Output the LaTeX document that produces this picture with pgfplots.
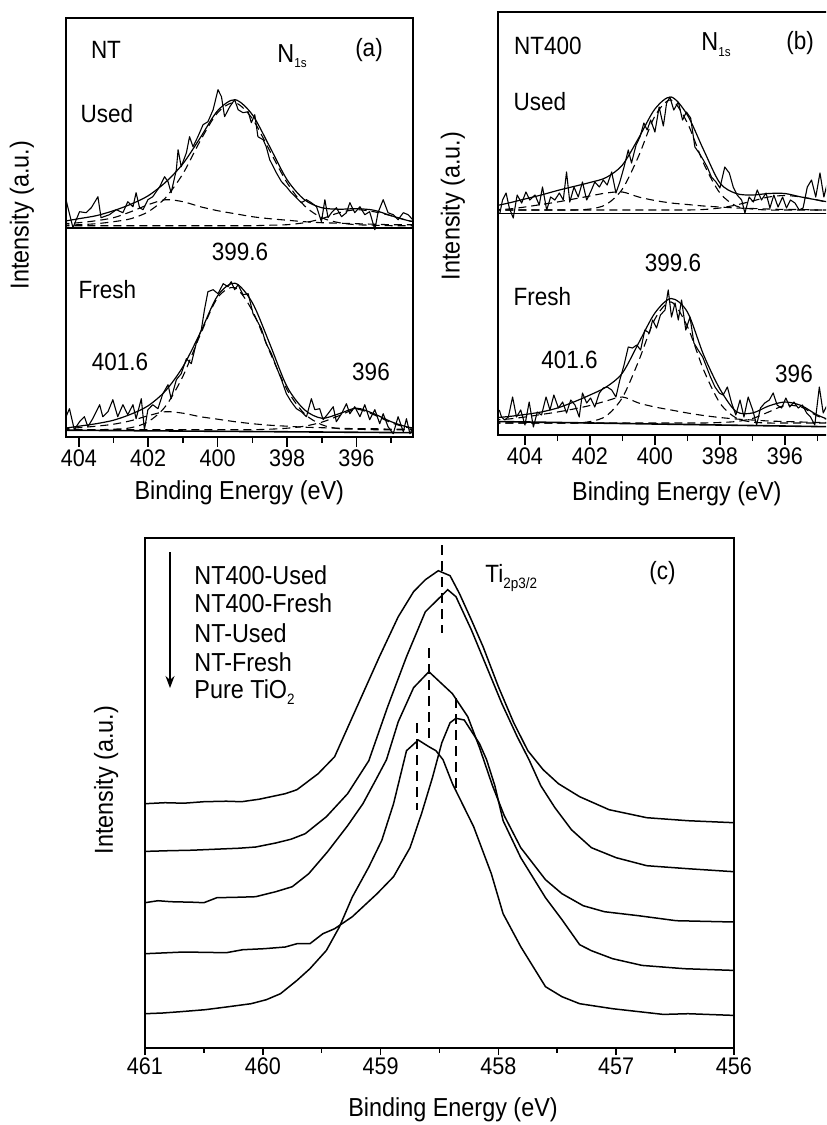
\documentclass[border=0pt]{standalone}
\usepackage{pgfplots}
\pgfplotsset{compat=1.18}
\usepackage{pgfplotstable}
\usepackage{fontspec}
\setmainfont{Liberation Sans}[FakeStretch=0.9]
\usetikzlibrary{arrows.meta}

% ---------------- panel (a) : NT ----------------
\pgfplotstableread{
E I
404.37 237
404.17 209
403.98 225
403.79 224
403.64 229
403.45 240
403.36 219
403.12 222
402.92 227
402.73 224
402.59 235
402.44 230
402.35 244
402.25 229
402.15 227
402.01 237
401.87 240
401.67 250
401.53 260
401.43 255
401.34 244
401.19 267
401.14 287
401.05 270
400.90 284
400.81 300
400.71 290
400.57 300
400.42 312
400.28 315
400.13 327
399.99 347
399.89 340
399.80 320
399.65 330
399.51 337
399.41 327
399.27 324
399.12 325
399.03 314
398.93 322
398.84 300
398.69 297
398.60 290
398.50 277
398.31 264
398.16 255
398.02 250
397.88 244
397.73 239
397.59 234
397.44 237
397.30 234
397.15 230
397.01 215
396.91 237
396.82 219
396.72 224
396.58 229
396.43 220
396.29 224
396.19 234
396.05 224
395.90 230
395.76 222
395.62 225
395.47 207
395.38 224
395.23 237
395.09 224
394.94 222
394.80 217
394.65 224
394.51 222
394.38 217
}\aUsedRaw

\pgfplotstableread{
E I
404.37 20
404.27 28
404.13 7
403.98 15
403.84 20
403.74 10
403.60 18
403.40 32
403.31 20
403.16 25
403.02 37
402.88 20
402.73 32
402.59 22
402.44 32
402.35 18
402.20 38
402.11 7
402.01 27
401.87 32
401.72 28
401.58 43
401.43 52
401.34 38
401.19 57
401.05 63
400.90 78
400.76 73
400.62 93
400.47 107
400.38 127
400.28 145
400.13 147
399.99 143
399.84 153
399.70 150
399.61 155
399.51 147
399.41 152
399.27 142
399.12 143
398.98 123
398.88 117
398.74 108
398.60 93
398.45 83
398.31 70
398.16 57
398.02 43
397.88 35
397.73 28
397.59 25
397.44 20
397.30 38
397.20 27
397.06 28
396.96 17
396.82 23
396.67 30
396.58 15
396.43 23
396.29 33
396.19 23
396.05 30
395.90 20
395.76 32
395.62 17
395.47 27
395.33 13
395.23 23
395.09 10
394.94 3
394.80 20
394.65 5
394.56 18
394.46 3
394.38 8
}\aFreshRaw

\pgfplotstableread{
E env main cA cB
404.5 215 211.5 213 211
404.0 218 212 214 211
403.5 221 213 216 211
403.0 226 215 219 211
402.5 232.5 218 225 211
402.0 241 225 232 211
401.5 254.5 239 237 211
401.0 273 263 235 211
400.5 299 296 230 211
400.0 326 324 226 211
399.5 337 334 223 211
399.0 322 318 220 211
398.5 290 286 218 211.5
398.0 257 254 216.5 212
397.5 237 231 215 214
397.0 229 219 214 218
396.5 227.5 214 213.5 224
396.0 228 212 213 227
395.5 226.5 211.5 212.5 225
395.0 221 211 212 221
394.5 216 211 212 216
394.0 213 211 212 213
}\aUsedFit

\pgfplotstableread{
E env main cA cB
404.5 8 7 8 7
404.0 10.5 7 9 7
403.5 13 7 10.5 7
403.0 16.5 7.5 12.5 7
402.5 22.5 9 16 7
402.0 31 15 21 7
401.5 46 30.5 25 7
401.0 70 60.5 23.5 7
400.5 104 102 20 7
400.0 141 139 17.5 7
399.5 153.5 149 15 7
399.0 134 126 13 7
398.5 93 85 11.5 7.5
398.0 50 47 10.5 8.5
397.5 27 23 9.5 10.5
397.0 18.5 12 9 14.5
396.5 23 8 8.5 21
396.0 28.5 7.5 8 27.5
395.5 23 7 8 22
395.0 15 7 7.5 14
394.5 9.5 7 7.5 9
394.0 7.5 7 7.5 7.5
}\aFreshFit

% ---------------- panel (b) : NT400 ----------------
\pgfplotstableread{
E I
404.77 222
404.69 235
404.58 242
404.48 227
404.36 217
404.24 240
404.10 232
403.97 243
403.85 235
403.69 240
403.56 230
403.46 248
403.33 225
403.21 238
403.08 235
402.94 242
402.82 235
402.72 263
402.62 233
402.49 248
402.36 238
402.23 253
402.10 235
401.98 243
401.85 253
401.71 248
401.59 255
401.47 250
401.33 263
401.20 242
401.08 253
400.95 268
400.82 285
400.72 272
400.58 290
400.46 298
400.34 312
400.24 305
400.13 315
400.00 303
399.87 328
399.74 309
399.64 332
399.54 338
399.42 325
399.28 333
399.15 315
399.03 323
398.90 317
398.77 288
398.64 282
398.51 275
398.39 268
398.26 258
398.12 253
398.00 247
397.85 268
397.71 262
397.59 248
397.47 240
397.33 235
397.23 222
397.10 238
396.97 233
396.85 245
396.72 235
396.58 242
396.46 227
396.34 240
396.21 228
396.07 238
395.95 227
395.83 235
395.69 232
395.56 225
395.44 227
395.31 248
395.18 255
395.05 238
394.92 262
394.80 238
394.67 255
}\bUsedRaw

\pgfplotstableread{
E I
404.79 25
404.72 18
404.62 15
404.51 18
404.38 38
404.26 18
404.13 25
404.00 10
403.87 33
403.74 8
403.62 23
403.49 20
403.35 38
403.23 25
403.11 40
402.97 27
402.84 33
402.72 22
402.59 35
402.46 30
402.33 18
402.23 42
402.10 32
401.98 37
401.85 28
401.71 42
401.59 47
401.47 48
401.33 45
401.20 38
401.08 55
400.95 70
400.82 88
400.69 87
400.56 90
400.44 85
400.31 105
400.17 102
400.07 115
399.95 107
399.83 120
399.69 125
399.59 145
399.49 118
399.38 132
399.28 115
399.18 135
399.05 105
398.92 118
398.80 92
398.67 85
398.53 78
398.41 68
398.29 58
398.15 48
398.02 42
397.90 40
397.77 48
397.64 32
397.51 20
397.38 35
397.26 18
397.13 38
396.99 25
396.87 10
396.75 27
396.62 32
396.48 35
396.36 42
396.24 30
396.10 27
395.97 37
395.85 28
395.72 33
395.59 27
395.46 30
395.33 22
395.21 18
395.08 10
394.94 48
394.82 22
394.67 32
}\bFreshRaw

\pgfplotstableread{
E env main cA cB
405.0 228.5 225 225.5 225
404.5 232 225 226 225
404.0 236 225 228 225
403.5 240 225 230.5 225
403.0 244.5 225 233 225
402.5 248.5 225 236 225
402.0 252.5 226 239 225
401.5 257.5 230.5 242 225
401.0 270 246 243 225
400.5 297 279 238 225
400.0 326 319 234.5 225
399.5 338 335 232 225
399.0 320 312 230.5 225
398.5 285 271.5 229 225.5
398.0 252 242 228 227
397.5 241.5 229 227 230
397.0 240 226 226.5 234
396.5 241.5 225 226 238
396.0 241.5 225 225.5 239.5
395.5 238 225 225.5 238
395.0 235 225 225 235
394.5 232 225 225 231
394.0 229 225 225 228
}\bUsedFit

\pgfplotstableread{
E env main cA cB
405.0 17 12 15 12
404.5 18.5 12 16 12
404.0 20.5 12 18 12
403.5 23 12 20.5 12
403.0 27 12 23 12
402.5 33 12 26 12
402.0 40 13.4 29.5 12
401.5 48 19 34 12
401.0 62 37.5 38 12
400.5 92 74 32 12
400.0 122 116 28 12
399.5 136.5 133 25 12
399.0 123 108.5 22 12
398.5 80 65 19.5 12
398.0 46 32 17.5 12.5
397.5 23.5 17 16 13.5
397.0 22 13 15 16.5
396.5 29 12 14 23
396.0 33 12 13.5 29.5
395.5 29.5 12 13 28
395.0 20 12 12.5 19
394.5 14 12 12.5 14
394.0 12 12 12.5 12.5
}\bFreshFit

% ---------------- panel (c) : Ti 2p3/2 ----------------
\pgfplotstableread{
E I
461.00 244
460.83 245
460.67 244.5
460.50 246
460.31 246.5
460.18 246
460.03 248.5
459.81 254
459.71 258
459.53 274
459.39 291
459.20 341
459.01 391
458.85 431
458.72 456
458.62 468
458.51 477
458.41 472
458.33 454
458.23 428
458.13 401
458.00 361
457.87 325
457.75 297
457.62 278
457.49 264
457.31 251
457.06 238
456.74 230
456.39 227
456.00 225
}\cA

\pgfplotstableread{
E I
461.00 196.3
460.80 197
460.60 197.5
460.40 198.5
460.20 199.5
460.06 200.7
459.89 204.7
459.76 208.5
459.64 214
459.46 231
459.28 254
459.10 287
458.94 341
458.78 391
458.62 436
458.43 458
458.36 451
458.23 418
458.10 381
457.97 344
457.84 311
457.74 288
457.64 262
457.52 240
457.38 218
457.21 200
457.00 190
456.74 182
456.39 179
456.00 176
}\cB

\pgfplotstableread{
E I
461.00 145
460.89 147
460.78 146
460.60 145.5
460.50 145
460.39 150
460.20 150.5
460.06 151
459.89 156
459.75 161
459.61 174
459.45 196
459.28 222
459.15 244
459.04 268
458.95 288
458.85 326
458.72 360
458.59 376
458.39 354
458.26 331
458.16 300
458.05 262
457.95 232
457.81 200
457.60 168
457.46 154
457.28 142
457.10 136
456.81 132
456.49 127
456.00 125.7
}\cC

\pgfplotstableread{
E I
461.00 94
460.67 95.7
460.31 95
460.17 98
459.99 99
459.81 100.7
459.71 104
459.60 104
459.49 114
459.39 119
459.24 131
459.03 154
458.89 171
458.75 200
458.65 235
458.56 270
458.48 305
458.41 325
458.36 329.4
458.29 327.7
458.16 304
458.10 288
458.03 262
457.96 227
457.81 190
457.60 150
457.46 128
457.31 103
457.21 97
457.03 89
456.78 82.3
456.42 79
456.00 77.3
}\cD

\pgfplotstableread{
E I
461.00 34
460.85 34.7
460.70 36
460.49 38
460.31 40.7
460.10 44
459.97 48
459.85 54
459.71 67.3
459.60 79
459.46 97.3
459.35 120.7
459.24 150.7
459.10 180.7
458.99 207.3
458.89 244
458.78 297
458.68 307.7
458.59 301
458.53 297
458.47 288
458.39 264
458.21 221
458.06 174
457.96 134
457.81 101
457.60 61
457.46 51
457.31 44
457.03 39
456.60 33.3
456.39 34
456.00 32.3
}\cE

\pgfplotsset{
  xpsstyle/.style={
    scale only axis,
    x dir=reverse,
    ytick=\empty,
    axis line style={line width=0.9pt},
    tick align=outside,
    xtick pos=left,
    major tick length=5pt,
    minor tick length=3pt,
    every tick/.style={line width=0.8pt, black},
    tick label style={font=\fontsize{12}{14}\selectfont},
    xticklabel style={yshift=2pt},
    label style={font=\fontsize{13}{15}\selectfont},
    /pgf/number format/assume math mode=true,
  },
  raw/.style={black, line width=0.55pt, line join=round},
  fit/.style={black, line width=0.6pt, smooth},
  comp/.style={black, line width=0.55pt, dash pattern=on 4pt off 2.5pt, smooth},
  base/.style={black, line width=0.8pt},
}

\begin{document}
\begin{tikzpicture}
\useasboundingbox (0,0) rectangle (413pt,-562.5pt);
\clip (0,0) rectangle (413pt,-562.5pt);

% ---------- (a)
\begin{axis}[xpsstyle,
  at={(33pt,-218.35pt)}, anchor=south west,
  width=173.35pt, height=209.2pt,
  xmin=394.38, xmax=404.37, ymin=0, ymax=418.4,
  xtick={396,398,400,402,404}, minor xtick={395,397,399,401,403},
  xlabel={Binding Energy (eV)}, ylabel={Intensity (a.u.)},
  xlabel style={at={(axis description cs:0.5,-0.135)}, anchor=center},
  ylabel style={at={(axis description cs:-0.127,0.53)}, anchor=center},
]
\addplot[base] coordinates {(404.4,209) (394.3,209)};
\addplot[base] coordinates {(404.4,6.5) (394.3,4)};
\addplot[raw] table[x=E,y=I] {\aUsedRaw};
\addplot[fit] table[x=E,y=env] {\aUsedFit};
\addplot[comp] table[x=E,y=main] {\aUsedFit};
\addplot[comp] table[x=E,y=cA] {\aUsedFit};
\addplot[comp] table[x=E,y=cB] {\aUsedFit};
\addplot[raw] table[x=E,y=I] {\aFreshRaw};
\addplot[fit] table[x=E,y=env] {\aFreshFit};
\addplot[comp] table[x=E,y=main] {\aFreshFit};
\addplot[comp] table[x=E,y=cA] {\aFreshFit};
\addplot[comp] table[x=E,y=cB] {\aFreshFit};
\end{axis}

% ---------- (b)
\begin{axis}[xpsstyle,
  at={(249.15pt,-217.5pt)}, anchor=south west,
  width=173.35pt, height=211.35pt,
  xmin=394.15, xmax=404.82, ymin=0, ymax=422.7,
  xtick={396,398,400,402,404}, minor xtick={395,397,399,401,403},
  xlabel={Binding Energy (eV)}, ylabel={Intensity (a.u.)},
  xlabel style={at={(axis description cs:0.515,-0.138)}, anchor=center},
  ylabel style={at={(axis description cs:-0.131,0.542)}, anchor=center},
]
\addplot[base] coordinates {(404.9,221.7) (394.1,221.7)};
\addplot[base] coordinates {(404.9,13.5) (394.1,8)};
\addplot[raw] table[x=E,y=I] {\bUsedRaw};
\addplot[fit] table[x=E,y=env] {\bUsedFit};
\addplot[comp] table[x=E,y=main] {\bUsedFit};
\addplot[comp] table[x=E,y=cA] {\bUsedFit};
\addplot[comp] table[x=E,y=cB] {\bUsedFit};
\addplot[raw] table[x=E,y=I] {\bFreshRaw};
\addplot[fit] table[x=E,y=env] {\bFreshFit};
\addplot[comp] table[x=E,y=main] {\bFreshFit};
\addplot[comp] table[x=E,y=cA] {\bFreshFit};
\addplot[comp] table[x=E,y=cB] {\bFreshFit};
\end{axis}

% ---------- (c)
\begin{axis}[xpsstyle,
  at={(72.5pt,-523.85pt)}, anchor=south west,
  width=294.5pt, height=254.85pt,
  xmin=456, xmax=461, ymin=0, ymax=509.7,
  xtick={456,457,458,459,460,461}, minor xtick={456.5,457.5,458.5,459.5,460.5},
  major tick length=3.7pt, minor tick length=2.5pt,
  tick label style={font=\fontsize{12}{14}\selectfont},
  xticklabel style={yshift=0pt},
  xlabel={Binding Energy (eV)}, ylabel={Intensity (a.u.)},
  xlabel style={at={(axis description cs:0.523,-0.122)}, anchor=center},
  ylabel style={at={(axis description cs:-0.066,0.525)}, anchor=center},
]
\addplot[black, line width=0.75pt] table[x=E,y=I] {\cA};
\addplot[black, line width=0.75pt] table[x=E,y=I] {\cB};
\addplot[black, line width=0.75pt] table[x=E,y=I] {\cC};
\addplot[black, line width=0.75pt] table[x=E,y=I] {\cD};
\addplot[black, line width=0.75pt] table[x=E,y=I] {\cE};
\addplot[black, line width=0.75pt, dash pattern=on 5pt off 3pt] coordinates {(458.48,502.7) (458.48,414.4)};
\addplot[black, line width=0.75pt, dash pattern=on 5pt off 3pt] coordinates {(458.59,399.4) (458.59,307.7)};
\addplot[black, line width=0.8pt, dash pattern=on 5pt off 3pt] coordinates {(458.69,324.7) (458.69,237.7)};
\addplot[black, line width=0.75pt, dash pattern=on 5pt off 3pt] coordinates {(458.36,349.7) (458.36,256)};
\end{axis}

% ---------- annotations (image pixel coordinates)
\begin{scope}[x=0.5pt,y=-0.5pt,every node/.style={inner sep=0pt,font=\fontsize{12.5}{14}\selectfont}]
% (a)
\node at (106,50) {NT};
\node[anchor=base west,font=\fontsize{13}{15}\selectfont] at (277,62) {N\raisebox{-2.5pt}{\fontsize{6.5}{7}\selectfont 1s}};
\node at (369,50) {(a)};
\node at (107,114) {Used};
\node at (240,252) {399.6};
\node at (107.5,290) {Fresh};
\node at (120,362) {401.6};
\node at (371,372) {396};
% (b)
\node at (548,46) {NT400};
\node[anchor=base west,font=\fontsize{13}{15}\selectfont] at (701,50) {N\raisebox{-3pt}{\fontsize{6.5}{7}\selectfont 1s}};
\node at (800,43.5) {(b)};
\node at (540,101.5) {Used};
\node at (673,262.5) {399.6};
\node at (542.5,296.5) {Fresh};
\node at (569.5,360) {401.6};
\node at (794,373.5) {396};
% (c)
\node[anchor=base west] at (485,582) {Ti\raisebox{-3pt}{\fontsize{7.5}{8}\selectfont 2p3/2}};
\node at (662.5,573) {(c)};
\begin{scope}[every node/.style={inner sep=0pt,anchor=west,font=\fontsize{13}{15}\selectfont}]
\node at (194,575) {NT400-Used};
\node at (194,603.3) {NT400-Fresh};
\node at (194,633.3) {NT-Used};
\node at (194,661.7) {NT-Fresh};
\node at (194,691.7) {Pure TiO\raisebox{-3pt}{\fontsize{7.5}{8}\selectfont 2}};
\end{scope}
\draw[-{Stealth[length=6pt,width=4.5pt]}, line width=0.7pt] (170,552) -- (170,688);
\end{scope}
\end{tikzpicture}
\end{document}
